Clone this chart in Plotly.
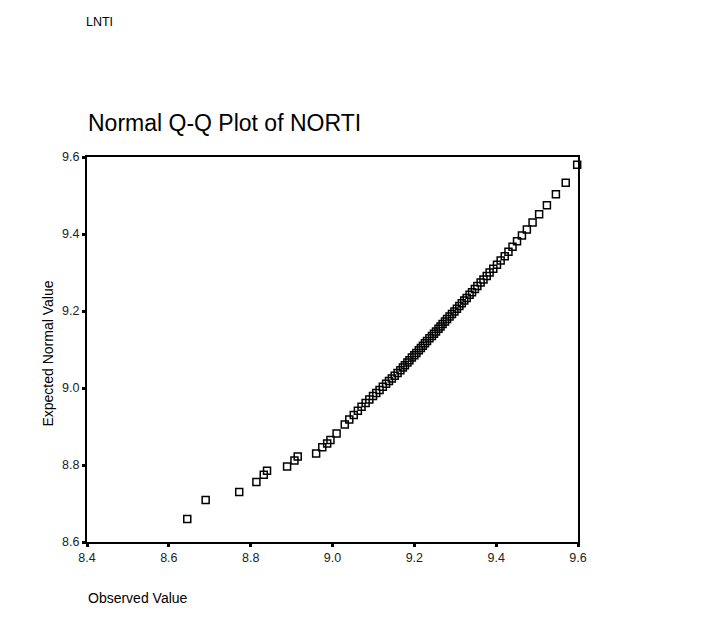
import plotly.graph_objects as go

# Observed values (x) and expected normal values (y) for NORTI
observed = [
    8.645, 8.690, 8.772, 8.814, 8.832, 8.840, 8.889, 8.907, 8.915, 8.960,
    8.975, 8.987, 8.995, 9.010,
    9.030, 9.041, 9.052, 9.062, 9.071, 9.081, 9.090, 9.099, 9.107, 9.115,
    9.123, 9.131, 9.138, 9.145, 9.152, 9.159, 9.166, 9.172, 9.177, 9.183,
    9.188, 9.194, 9.200, 9.205, 9.211, 9.216, 9.221, 9.226, 9.231, 9.237,
    9.243, 9.248, 9.253, 9.259, 9.264, 9.269, 9.275, 9.280, 9.286, 9.292,
    9.298, 9.304, 9.310, 9.316, 9.322, 9.328, 9.335, 9.341, 9.348, 9.354,
    9.362, 9.369, 9.377, 9.384, 9.393, 9.402, 9.411, 9.421, 9.430, 9.440,
    9.451, 9.463, 9.475, 9.489, 9.505, 9.524, 9.546, 9.570, 9.598,
]
expected = [
    8.660, 8.709, 8.730, 8.756, 8.775, 8.785, 8.796, 8.812, 8.822, 8.830,
    8.846, 8.856, 8.865, 8.882,
    8.905, 8.918, 8.930, 8.941, 8.951, 8.961, 8.970, 8.979, 8.987, 8.995,
    9.003, 9.011, 9.018, 9.025, 9.032, 9.039, 9.046, 9.053, 9.059, 9.066,
    9.072, 9.079, 9.085, 9.091, 9.098, 9.104, 9.110, 9.116, 9.122, 9.129,
    9.135, 9.141, 9.147, 9.154, 9.160, 9.166, 9.173, 9.179, 9.186, 9.192,
    9.199, 9.206, 9.213, 9.220, 9.227, 9.234, 9.242, 9.249, 9.257, 9.265,
    9.274, 9.282, 9.291, 9.300, 9.310, 9.320, 9.331, 9.342, 9.354, 9.367,
    9.381, 9.396, 9.412, 9.430, 9.451, 9.475, 9.503, 9.533, 9.580,
]

x_ticks = [8.4, 8.6, 8.8, 9.0, 9.2, 9.4, 9.6]
y_ticks = [8.6, 8.8, 9.0, 9.2, 9.4, 9.6]

FONT = "Liberation Sans, Arial, sans-serif"

fig = go.Figure(
    go.Scatter(
        x=observed,
        y=expected,
        mode="markers",
        cliponaxis=False,
        marker=dict(symbol="square-open", size=7, color="black",
                    line=dict(width=1.5, color="black")),
        hoverinfo="x+y",
    )
)

axis_common = dict(
    showgrid=False,
    zeroline=False,
    showline=True,
    linecolor="black",
    linewidth=2,
    mirror=True,
    ticks="outside",
    ticklen=3,
    tickwidth=3,
    tickcolor="black",
    tickfont=dict(family=FONT, size=12.5, color="#222222"),
    tickformat=".1f",
)

fig.update_xaxes(range=[8.4, 9.6], tickvals=x_ticks, **axis_common)
fig.update_yaxes(range=[8.6, 9.6], tickvals=y_ticks, **axis_common)

fig.update_layout(
    width=715,
    height=617,
    margin=dict(l=87, r=137, t=157, b=75),
    paper_bgcolor="white",
    plot_bgcolor="white",
    showlegend=False,
    font=dict(family=FONT, color="black"),
    annotations=[
        dict(text="LNTI", xref="paper", yref="paper", x=-0.006, y=1.351,
             xanchor="left", yanchor="middle", showarrow=False,
             font=dict(family=FONT, size=12.5, color="black")),
        dict(text="Normal Q-Q Plot of NORTI", xref="paper", yref="paper",
             x=-0.002, y=1.088, xanchor="left", yanchor="middle",
             showarrow=False,
             font=dict(family=FONT, size=23, color="black")),
        dict(text="Observed Value", xref="paper", yref="paper", x=-0.002,
             y=-0.145, xanchor="left", yanchor="middle", showarrow=False,
             font=dict(family=FONT, size=14, color="black")),
        dict(text="Expected Normal Value", xref="paper", yref="paper",
             x=-0.079, y=0.49, xanchor="center", yanchor="middle",
             textangle=-90, showarrow=False,
             font=dict(family=FONT, size=14, color="black")),
    ],
)

fig.write_html("out.html")
